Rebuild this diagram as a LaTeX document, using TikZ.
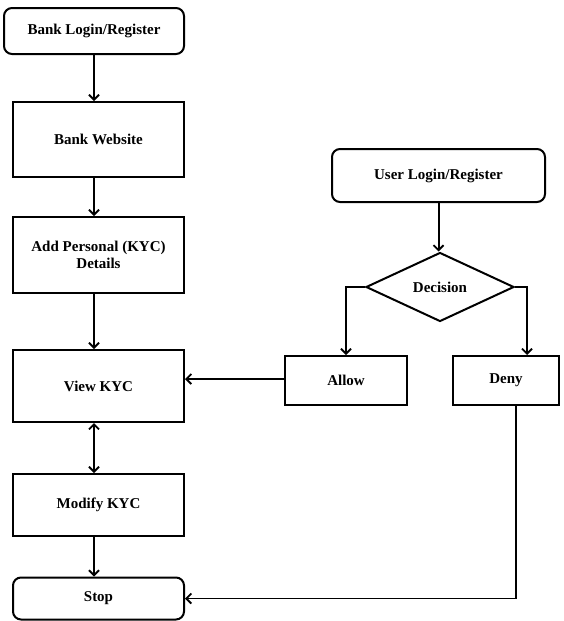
\documentclass[tikz,border=0pt]{standalone}
\usepackage{fontspec}
\setmainfont{Liberation Serif}
\usetikzlibrary{arrows.meta,calc,shapes.geometric}
\tikzset{
	box/.style={
			draw=black, line width=2pt, fill=white,
			font=\fontsize{15}{17}\selectfont\bfseries, align=center,
			inner sep=2pt
		},
	roundbox/.style={box, rounded corners=8pt},
	flow/.style={line width=2pt, -{Straight Barb[length=5pt,width=10pt,line width=1.8pt]}}
}

\begin{document}
\begin{tikzpicture}[x=1pt, y=-1pt]
		\useasboundingbox (0,0) rectangle (563,621);
		% left column
		\node [roundbox, minimum width=180pt, minimum height=46pt] (banklogin) at (94, 31) {Bank Login/Register};
		\node [box, minimum width=171pt, minimum height=75pt] (bankweb) at (98.5, 139.5) {Bank Website};
		\node [box, minimum width=171pt, minimum height=76pt] (addkyc) at (98.5, 255) {Add Personal (KYC)\\Details};
		\node [box, minimum width=171pt, minimum height=72pt] (viewkyc) at (98.5, 386) {View KYC};
		\node [box, minimum width=171pt, minimum height=62pt] (modkyc) at (98.5, 505) {Modify KYC};
		\node [roundbox, minimum width=171pt, minimum height=42pt] (stop) at (98.5, 598.5) {Stop};
		% right column
		\node [roundbox, minimum width=213pt, minimum height=53pt] (userlogin) at (438.5, 175.5) {User Login/Register};
		\node [box, diamond, aspect=2.15, minimum width=148pt, minimum height=69pt, inner sep=0pt] (decision) at (440, 287) {Decision};
		\node [box, minimum width=122pt, minimum height=49pt] (allow) at (346, 380.5) {Allow};
		\node [box, minimum width=106pt, minimum height=49pt] (deny) at (506, 380.5) {Deny};

		\coordinate (colx) at (94, 0);
		\draw [flow] (banklogin.south) -- (banklogin.south |- bankweb.north);
		\draw [flow] (colx |- bankweb.south) -- (colx |- addkyc.north);
		\draw [flow] (colx |- addkyc.south) -- (colx |- viewkyc.north);
		\draw [flow, {Straight Barb[length=5pt,width=10pt,line width=1.8pt]}-{Straight Barb[length=5pt,width=10pt,line width=1.8pt]}] (colx |- viewkyc.south) -- (colx |- modkyc.north);
		\draw [flow] (colx |- modkyc.south) -- (colx |- stop.north);

		\draw [flow] (userlogin.south) -- (userlogin.south |- decision.north);
		\draw [flow] (decision.west) -| (allow.north);
		\draw [flow] (decision.east) -| ([xshift=21pt]deny.north);
		\draw [flow] ([yshift=1.5pt]allow.west) -- ([yshift=1.5pt]allow.west -| viewkyc.east);
		\draw [flow, line width=1.6pt] ([xshift=10pt]deny.south) |- (stop.east);
	\end{tikzpicture}
\end{document}
